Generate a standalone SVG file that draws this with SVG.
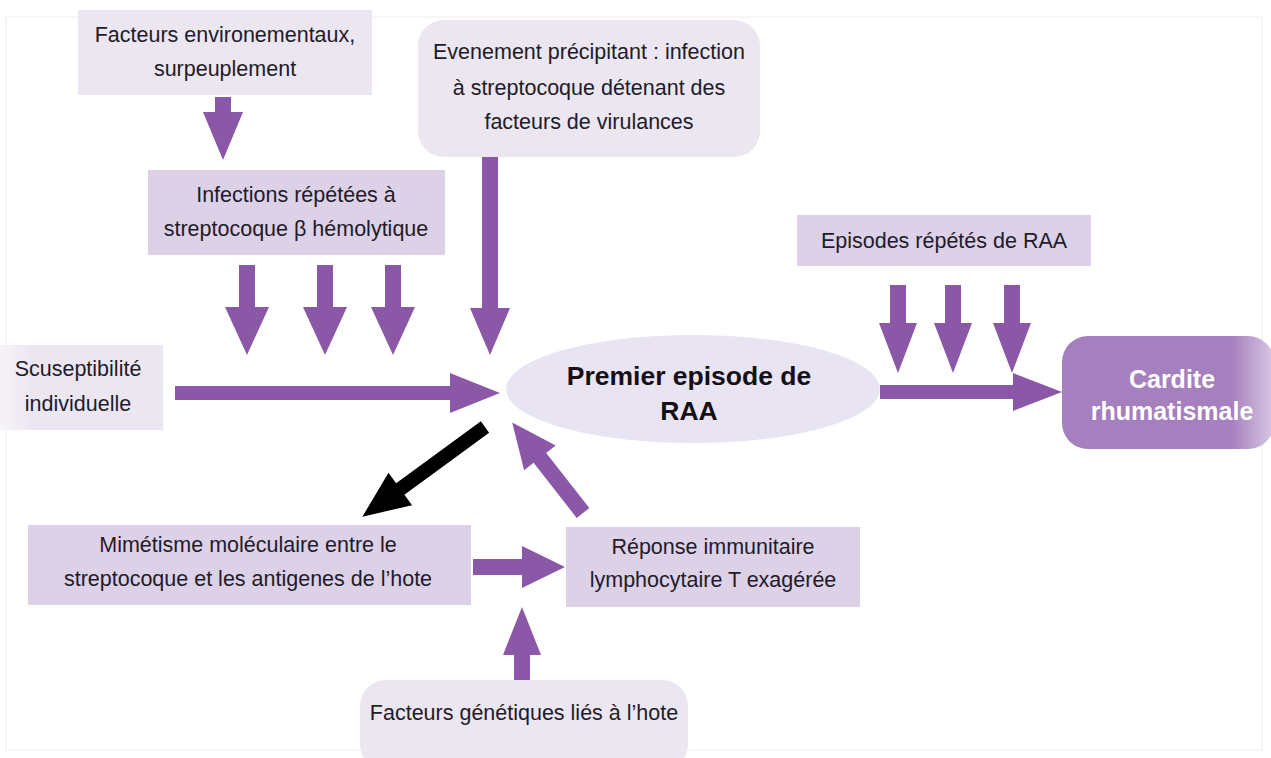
<svg xmlns="http://www.w3.org/2000/svg" width="1271" height="758" viewBox="0 0 1271 758">
<defs>
<style>
.t{font-family:"Liberation Sans",Arial,sans-serif;font-size:21.5px;fill:#221b29;text-anchor:middle}
.b{font-size:26.5px;font-weight:bold;fill:#151018}
.w{font-size:25px;font-weight:bold;fill:#ffffff}
.light{fill:#ece6f1}
.mid{fill:#ddd1e7}
.arr{fill:#8b57a7}
.blk{fill:#000}
</style>
<linearGradient id="gCard" x1="0" y1="0" x2="1" y2="0">
<stop offset="0" stop-color="#a57fbe"/>
<stop offset="0.8" stop-color="#a57fbe"/>
<stop offset="1" stop-color="#d9c8e4"/>
</linearGradient>
<linearGradient id="gScu" x1="0" y1="0" x2="1" y2="0">
<stop offset="0" stop-color="#f6f3f8"/>
<stop offset="0.2" stop-color="#ece6f1"/>
<stop offset="1" stop-color="#ece6f1"/>
</linearGradient>
</defs>
<rect x="0" y="0" width="1271" height="758" fill="#fff"/>
<rect x="6" y="17" width="1256" height="733" fill="none" stroke="#f3f3f3" stroke-width="1.5"/>

<g id="connectors">
<polygon class="arr" points="215,97 231,97 231,112 243,112 223,160 203,112 215,112"/>
<polygon class="arr" points="239,265 255,265 255,307 269,307 247,355 225,307 239,307"/>
<polygon class="arr" points="317,265 333,265 333,307 347,307 325,355 303,307 317,307"/>
<polygon class="arr" points="385,265 401,265 401,307 415,307 393,355 371,307 385,307"/>
<polygon class="arr" points="482,157 498,157 498,308 510,308 490,355 470,308 482,308"/>
<polygon class="arr" points="890,285 906,285 906,323 917,323 898,373 879,323 890,323"/>
<polygon class="arr" points="945,285 961,285 961,323 972,323 953,373 934,323 945,323"/>
<polygon class="arr" points="1004,285 1020,285 1020,323 1031,323 1012,373 993,323 1004,323"/>
<polygon class="arr" points="175,386 450,386 450,373 500,393 450,413 450,400 175,400"/>
<polygon class="arr" points="880,385 1013,385 1013,373 1062,392 1013,411 1013,399 880,399"/>
<polygon class="arr" points="473,559 522,559 522,546 565,567 522,588 522,575 473,575"/>
<polygon class="arr" points="514,680 514,655 503,655 522,607 541,655 530,655 530,680"/>
<polygon class="blk" transform="translate(485,427) rotate(143.8)" points="0,-7 105,-7 105,-20 152,0 105,20 105,7 0,7"/>
<polygon class="arr" transform="translate(583,513) rotate(-128)" points="0,-8 70,-8 70,-20 115,0 70,20 70,8 0,8"/>
</g>

<g id="n-env">
<rect class="light" x="78" y="10" width="294" height="85"/>
<text class="t" x="225" y="42">Facteurs environementaux,</text>
<text class="t" x="225" y="76">surpeuplement</text>
</g>

<g id="n-infections">
<rect class="mid" x="148" y="170" width="297" height="85"/>
<text class="t" x="296" y="202">Infections répétées à</text>
<text class="t" x="296" y="236">streptocoque β hémolytique</text>
</g>

<g id="n-evenement">
<rect class="light" x="418" y="20" width="342" height="137" rx="26"/>
<text class="t" x="589" y="59">Evenement précipitant : infection</text>
<text class="t" x="589" y="95">à streptocoque détenant des</text>
<text class="t" x="589" y="129">facteurs de virulances</text>
</g>

<g id="n-episodes">
<rect class="mid" x="797" y="215" width="294" height="51"/>
<text class="t" x="944" y="248">Episodes répétés de RAA</text>
</g>

<g id="n-scu">
<rect x="0" y="345" width="163" height="85" fill="url(#gScu)"/>
<text class="t" x="78" y="376">Scuseptibilité</text>
<text class="t" x="78" y="411">individuelle</text>
</g>

<g id="n-premier">
<ellipse cx="693" cy="389" rx="187" ry="54" fill="#e9e4f1"/>
<text class="t b" x="689" y="385">Premier episode de</text>
<text class="t b" x="689" y="420">RAA</text>
</g>

<g id="n-cardite">
<rect x="1062" y="336" width="212" height="113" rx="26" fill="url(#gCard)"/>
<text class="t w" x="1172" y="388">Cardite</text>
<text class="t w" x="1172" y="420">rhumatismale</text>
</g>

<g id="n-mimetisme">
<rect class="mid" x="28" y="525" width="443" height="80"/>
<text class="t" x="248" y="552">Mimétisme moléculaire entre le</text>
<text class="t" x="248" y="586">streptocoque et les antigenes de l’hote</text>
</g>

<g id="n-reponse">
<rect class="mid" x="566" y="527" width="294" height="80"/>
<text class="t" x="713" y="554">Réponse immunitaire</text>
<text class="t" x="713" y="587">lymphocytaire T exagérée</text>
</g>

<g id="n-genetiques">
<rect class="light" x="360" y="680" width="328" height="90" rx="26"/>
<text class="t" x="524" y="720">Facteurs génétiques liés à l’hote</text>
</g>
</svg>
